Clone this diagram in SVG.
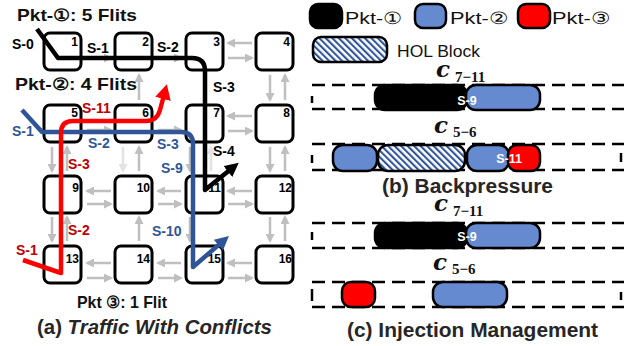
<svg xmlns="http://www.w3.org/2000/svg" width="624" height="346" viewBox="0 0 624 346">
<style>
.bx{fill:#fff;stroke:#000;stroke-width:3}
.num{font-family:"Liberation Sans",Arial,sans-serif;font-weight:bold;font-size:12px;fill:#000;text-anchor:end}
.g{stroke:#BFBFBF;stroke-width:2.5;marker-end:url(#ga)}
.gl{stroke:#E3E3E3;stroke-width:2.5;marker-end:url(#gal)}
.lab{font-family:"Liberation Sans",Arial,sans-serif;font-weight:bold;font-size:14px}
.k{fill:#000}.b{fill:#2F5597}.r{fill:#C00000}
.big{font-family:"Liberation Sans",Arial,sans-serif;font-weight:bold;font-size:17px;fill:#111}
.ttl{font-family:"Liberation Sans",Arial,sans-serif;font-weight:bold;font-size:20px;fill:#262626}
.leg{font-family:"Liberation Sans",Arial,sans-serif;font-size:17px;fill:#111}
.mc{font-family:"DejaVu Serif","Liberation Serif",serif;font-style:italic;font-weight:bold;font-size:23px;fill:#111}
.ms{font-family:"Liberation Serif","Times New Roman",serif;font-weight:bold;font-size:15px;fill:#111}
.dash{stroke:#000;stroke-width:2.5;stroke-dasharray:13 7;fill:none}
.blk{stroke:#000;stroke-width:2.5}
.wt{font-family:"Liberation Sans",Arial,sans-serif;font-weight:bold;font-size:12.5px;fill:#fff;text-anchor:middle}
.path{fill:none;stroke-width:4.5;stroke-linejoin:round}
</style>
<defs>
<marker id="ga" markerUnits="userSpaceOnUse" markerWidth="9" markerHeight="9" viewBox="0 0 9 9" refX="7" refY="4.5" orient="auto"><path d="M0,0 L9,4.5 L0,9 z" fill="#BFBFBF"/></marker>
<marker id="gal" markerUnits="userSpaceOnUse" markerWidth="9" markerHeight="9" viewBox="0 0 9 9" refX="7" refY="4.5" orient="auto"><path d="M0,0 L9,4.5 L0,9 z" fill="#E3E3E3"/></marker>
<marker id="ak" markerUnits="userSpaceOnUse" markerWidth="16" markerHeight="14" viewBox="0 0 16 14" refX="4" refY="7" orient="auto"><path d="M0,0 L14,7 L0,14 z" fill="#000"/></marker>
<marker id="ab" markerUnits="userSpaceOnUse" markerWidth="16" markerHeight="14" viewBox="0 0 16 14" refX="4" refY="7" orient="auto"><path d="M0,0 L14,7 L0,14 z" fill="#2F5597"/></marker>
<marker id="ar" markerUnits="userSpaceOnUse" markerWidth="16" markerHeight="16" viewBox="0 0 16 16" refX="4" refY="8" orient="auto"><path d="M0,0 L15,8 L0,16 z" fill="#FF0000"/></marker>
<pattern id="hatch" patternUnits="userSpaceOnUse" width="4.6" height="4.6" patternTransform="rotate(-45)"><rect width="4.6" height="4.6" fill="#fff"/><rect width="2.1" height="4.6" fill="#2F5597"/></pattern>
</defs>

<g id="mesh-links">
<line class="g" x1="87" y1="58" x2="111" y2="58"/>
<line class="g" x1="158" y1="58" x2="181" y2="58"/>
<line class="g" x1="252" y1="43" x2="228" y2="43"/>
<line class="g" x1="228" y1="58" x2="252" y2="58"/>
<line class="g" x1="87" y1="130" x2="111" y2="130"/>
<line class="g" x1="158" y1="130" x2="181" y2="130"/>
<line class="g" x1="252" y1="116" x2="228" y2="116"/>
<line class="g" x1="228" y1="131" x2="252" y2="131"/>
<line class="g" x1="111" y1="191" x2="87" y2="191"/>
<line class="g" x1="87" y1="204" x2="111" y2="204"/>
<line class="g" x1="181" y1="191" x2="158" y2="191"/>
<line class="g" x1="158" y1="204" x2="181" y2="204"/>
<line class="g" x1="252" y1="191" x2="228" y2="191"/>
<line class="g" x1="228" y1="204" x2="252" y2="204"/>
<line class="g" x1="111" y1="263" x2="87" y2="263"/>
<line class="g" x1="87" y1="278" x2="111" y2="278"/>
<line class="g" x1="181" y1="263" x2="158" y2="263"/>
<line class="g" x1="158" y1="278" x2="181" y2="278"/>
<line class="g" x1="252" y1="263" x2="228" y2="263"/>
<line class="g" x1="228" y1="278" x2="252" y2="278"/>
<line class="g" x1="139" y1="100" x2="139" y2="75"/>
<line class="g" x1="270" y1="75" x2="270" y2="100"/>
<line class="g" x1="285" y1="100" x2="285" y2="75"/>
<line class="g" x1="52" y1="147" x2="52" y2="171"/>
<line class="g" x1="67" y1="171" x2="67" y2="147"/>
<line class="gl" x1="123" y1="147" x2="123" y2="171"/>
<line class="g" x1="139" y1="171" x2="139" y2="147"/>
<line class="g" x1="190" y1="147" x2="190" y2="171"/>
<line class="gl" x1="211" y1="171" x2="211" y2="147"/>
<line class="g" x1="270" y1="147" x2="270" y2="171"/>
<line class="g" x1="285" y1="171" x2="285" y2="147"/>
<line class="g" x1="52" y1="217" x2="52" y2="241"/>
<line class="g" x1="67" y1="241" x2="67" y2="217"/>
<line class="g" x1="139" y1="241" x2="139" y2="217"/>
<line class="g" x1="190" y1="217" x2="190" y2="241"/>
<line class="g" x1="270" y1="217" x2="270" y2="241"/>
<line class="g" x1="285" y1="241" x2="285" y2="217"/>
</g>

<g id="r1"><rect class="bx" x="44" y="33" width="37" height="37" rx="6"/><text class="num" x="78" y="46">1</text></g>
<g id="r2"><rect class="bx" x="115" y="33" width="37" height="37" rx="6"/><text class="num" x="149" y="46">2</text></g>
<g id="r3"><rect class="bx" x="186" y="33" width="37" height="37" rx="6"/><text class="num" x="220" y="46">3</text></g>
<g id="r4"><rect class="bx" x="256" y="33" width="37" height="37" rx="6"/><text class="num" x="290" y="46">4</text></g>
<g id="r5"><rect class="bx" x="44" y="105" width="37" height="37" rx="6"/><text class="num" x="78" y="117">5</text></g>
<g id="r6"><rect class="bx" x="115" y="105" width="37" height="37" rx="6"/><text class="num" x="149" y="117">6</text></g>
<g id="r7"><rect class="bx" x="186" y="105" width="37" height="37" rx="6"/><text class="num" x="220" y="117">7</text></g>
<g id="r8"><rect class="bx" x="256" y="105" width="37" height="37" rx="6"/><text class="num" x="290" y="117">8</text></g>
<g id="r9"><rect class="bx" x="44" y="176" width="37" height="37" rx="6"/><text class="num" x="79" y="192">9</text></g>
<g id="r10"><rect class="bx" x="115" y="176" width="37" height="37" rx="6"/><text class="num" x="150" y="192">10</text></g>
<g id="r11"><rect class="bx" x="186" y="176" width="37" height="37" rx="6"/><text class="num" x="221" y="192">11</text></g>
<g id="r12"><rect class="bx" x="256" y="176" width="37" height="37" rx="6"/><text class="num" x="292" y="192">12</text></g>
<g id="r13"><rect class="bx" x="44" y="246" width="37" height="37" rx="6"/><text class="num" x="79" y="263">13</text></g>
<g id="r14"><rect class="bx" x="115" y="246" width="37" height="37" rx="6"/><text class="num" x="150" y="263">14</text></g>
<g id="r15"><rect class="bx" x="186" y="246" width="37" height="37" rx="6"/><text class="num" x="221" y="263">15</text></g>
<g id="r16"><rect class="bx" x="256" y="246" width="37" height="37" rx="6"/><text class="num" x="292" y="263">16</text></g>

<g id="connectors">
<path class="path" stroke="#2F5597" d="M22,110 L42,132 L181,132 Q193,132 193,144 L193,267 L221.4,242.5" marker-end="url(#ab)"/>
<path class="path" stroke="#000" d="M37,29 L58,58 L192,58 Q205,58 205,71 L205,190 L231,169" marker-end="url(#ak)"/>
<path class="path" stroke="#FF0000" d="M23,260 L61,273 L61,133 Q61,121 73,121 L146,121 Q157,121 160,110 L164,95" marker-end="url(#ar)"/>
</g>

<g id="labels-a">
<text class="big" x="17" y="21" textLength="120" lengthAdjust="spacingAndGlyphs">Pkt-①: 5 Flits</text>
<text class="big" x="15" y="90" textLength="122" lengthAdjust="spacingAndGlyphs">Pkt-②: 4 Flits</text>
<text class="big" x="77" y="308" textLength="90" lengthAdjust="spacingAndGlyphs">Pkt ③: 1 Flit</text>
<text class="lab k" x="12" y="49">S-0</text>
<text class="lab k" x="87" y="53">S-1</text>
<text class="lab k" x="157" y="52">S-2</text>
<text class="lab k" x="213" y="92">S-3</text>
<text class="lab k" x="213" y="156">S-4</text>
<text class="lab b" x="12" y="136">S-1</text>
<text class="lab b" x="88" y="148">S-2</text>
<text class="lab b" x="157" y="149">S-3</text>
<text class="lab b" x="161" y="173">S-9</text>
<text class="lab b" x="152" y="236">S-10</text>
<text class="lab r" x="82" y="113">S-11</text>
<text class="lab r" x="68" y="169">S-3</text>
<text class="lab r" x="68" y="235">S-2</text>
<text class="lab r" x="16" y="255">S-1</text>
<text class="ttl" x="37" y="334" textLength="235" lengthAdjust="spacingAndGlyphs">(a) <tspan font-style="italic">Traffic With Conflicts</tspan></text>
</g>

<g id="legend">
<rect class="blk" x="310" y="4" width="32" height="24" rx="8" fill="#000"/>
<text class="leg" x="345" y="24" textLength="57" lengthAdjust="spacingAndGlyphs">Pkt-①</text>
<rect class="blk" x="415" y="4" width="31" height="24" rx="8" fill="#668ACF"/>
<text class="leg" x="450" y="24" textLength="58" lengthAdjust="spacingAndGlyphs">Pkt-②</text>
<rect class="blk" x="518" y="4" width="32" height="24" rx="8" fill="#FF0000"/>
<text class="leg" x="552" y="24" textLength="58" lengthAdjust="spacingAndGlyphs">Pkt-③</text>
<rect class="blk" x="313" y="37" width="74" height="25" rx="8" fill="url(#hatch)"/>
<text class="leg" x="397" y="57" textLength="83" lengthAdjust="spacingAndGlyphs">HOL Block</text>
</g>

<g id="backpressure">
<text x="436" y="77"><tspan class="mc">c</tspan><tspan class="ms" x="455" y="82">7−11</tspan></text>
<line class="dash" x1="312" y1="85" x2="624" y2="85"/>
<line class="dash" x1="312" y1="109" x2="624" y2="109"/>
<line class="blk" x1="312" y1="96" x2="312" y2="103"/>
<rect class="blk" x="375" y="85" width="92" height="25" rx="10" fill="#000"/>
<rect class="blk" x="466" y="85" width="74" height="25" rx="10" fill="#668ACF"/>
<text class="wt" x="467" y="105">S-9</text>
<text x="434" y="133"><tspan class="mc">c</tspan><tspan class="ms" x="453" y="137">5−6</tspan></text>
<line class="dash" x1="312" y1="144" x2="624" y2="144"/>
<line class="dash" x1="312" y1="170" x2="624" y2="170"/>
<line class="blk" x1="312" y1="155" x2="312" y2="163"/>
<line class="blk" x1="621" y1="153" x2="621" y2="162"/>
<rect class="blk" x="333" y="145" width="44" height="26" rx="10" fill="#668ACF"/>
<rect class="blk" x="378" y="145" width="87" height="26" rx="10" fill="url(#hatch)"/>
<rect class="blk" x="467" y="145" width="42" height="26" rx="10" fill="#668ACF"/>
<rect class="blk" x="508" y="145" width="32" height="26" rx="9" fill="#FF0000"/>
<text class="wt" x="509" y="163">S-11</text>
<text class="ttl" x="382" y="193" textLength="171" lengthAdjust="spacingAndGlyphs">(b) Backpressure</text>
</g>

<g id="injection">
<text x="434" y="211"><tspan class="mc">c</tspan><tspan class="ms" x="453" y="216">7−11</tspan></text>
<line class="dash" x1="312" y1="223" x2="624" y2="223"/>
<line class="dash" x1="312" y1="248" x2="624" y2="248"/>
<line class="blk" x1="312" y1="232" x2="312" y2="240"/>
<rect class="blk" x="375" y="223" width="92" height="25" rx="10" fill="#000"/>
<rect class="blk" x="466" y="223" width="74" height="25" rx="10" fill="#668ACF"/>
<text class="wt" x="467" y="241">S-9</text>
<text x="433" y="270"><tspan class="mc">c</tspan><tspan class="ms" x="452" y="274">5−6</tspan></text>
<line class="dash" x1="312" y1="282" x2="624" y2="282"/>
<line class="dash" x1="312" y1="307" x2="624" y2="307"/>
<line class="blk" x1="312" y1="289" x2="312" y2="301"/>
<line class="blk" x1="621" y1="292" x2="621" y2="300"/>
<rect class="blk" x="342" y="282" width="33" height="25" rx="9" fill="#FF0000"/>
<rect class="blk" x="433" y="282" width="74" height="25" rx="10" fill="#668ACF"/>
<text class="ttl" x="347" y="337" textLength="251" lengthAdjust="spacingAndGlyphs">(c) Injection Management</text>
</g>
</svg>
